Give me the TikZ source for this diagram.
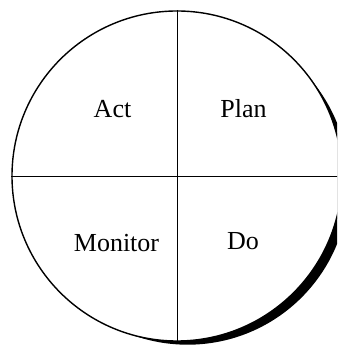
\documentclass[tikz,border=0pt]{standalone}
\usepackage{fontspec}
\setmainfont{Liberation Serif}
\newfontfamily\lserif{Liberation Serif}
\begin{document}
\begin{tikzpicture}[x=1pt,y=1pt,
  lbl/.style={anchor=base,inner sep=0pt,font=\lserif\fontsize{26}{30}\selectfont},
  divider/.style={line width=0.9pt}]
\useasboundingbox (0,0) rectangle (337,345);
\clip (0,0) rectangle (337,345);
\fill[white] (0,0) rectangle (337,345);
% shadow
\fill[black] (187.6,161.5) circle (161.2);
\node[circle,draw,line width=1.4pt,fill=white,minimum size=330pt,inner sep=0pt] (c) at (177,169) {};
\draw[divider] (c.north) -- (c.south);
\draw[divider] (c.west) -- (c.east);
\node[lbl] (act) at (112.5,227) {Act};
\node[lbl] (plan) at (243.5,227) {Plan};
\node[lbl] (mon) at (116.5,93) {Monitor};
\node[lbl] (do) at (243,95) {Do};
\end{tikzpicture}
\end{document}
